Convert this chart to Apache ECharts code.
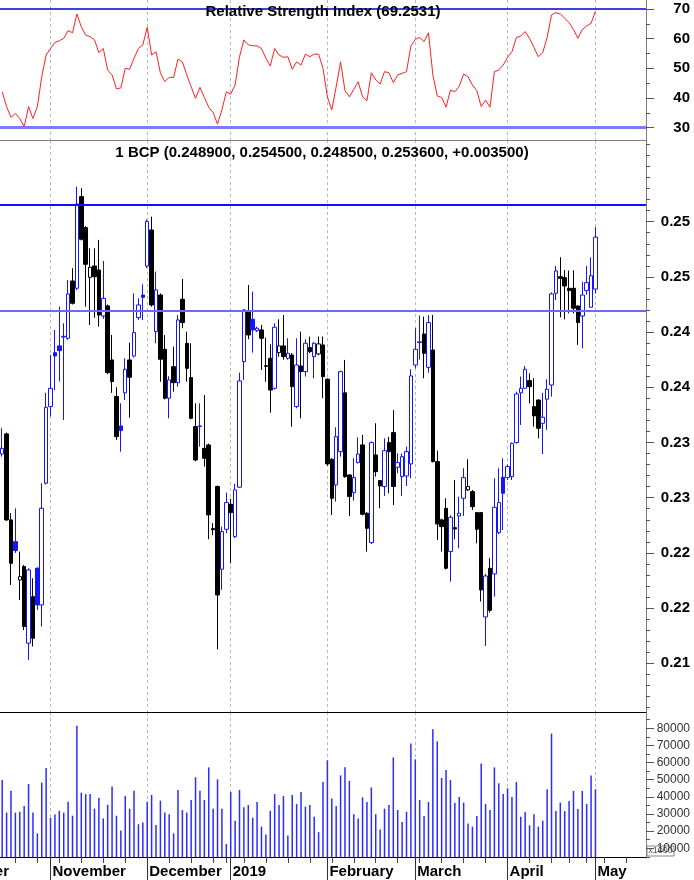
<!DOCTYPE html>
<html>
<head>
<meta charset="utf-8">
<script src="https://cdn.jsdelivr.net/npm/echarts@6/dist/echarts.min.js"></script>
<style>html,body{margin:0;padding:0;background:#fff}#chart{width:694px;height:880px}</style>
</head>
<body>
<div id="chart"></div>
<script>
// ---------------- data ----------------
const dates = [
'2018-10-17','2018-10-18','2018-10-19','2018-10-22','2018-10-23','2018-10-24','2018-10-25','2018-10-26','2018-10-29','2018-10-30','2018-10-31',
'2018-11-01','2018-11-02','2018-11-05','2018-11-06','2018-11-07','2018-11-08','2018-11-09','2018-11-12','2018-11-13','2018-11-14','2018-11-15','2018-11-16','2018-11-19','2018-11-20','2018-11-21','2018-11-22','2018-11-23','2018-11-26','2018-11-27','2018-11-28','2018-11-29','2018-11-30',
'2018-12-03','2018-12-04','2018-12-05','2018-12-06','2018-12-07','2018-12-10','2018-12-11','2018-12-12','2018-12-13','2018-12-14','2018-12-17','2018-12-18','2018-12-19','2018-12-20','2018-12-21','2018-12-24','2018-12-27','2018-12-28','2018-12-31',
'2019-01-02','2019-01-03','2019-01-04','2019-01-07','2019-01-08','2019-01-09','2019-01-10','2019-01-11','2019-01-14','2019-01-15','2019-01-16','2019-01-17','2019-01-18','2019-01-21','2019-01-22','2019-01-23','2019-01-24','2019-01-25','2019-01-28','2019-01-29','2019-01-30','2019-01-31',
'2019-02-01','2019-02-04','2019-02-05','2019-02-06','2019-02-07','2019-02-08','2019-02-11','2019-02-12','2019-02-13','2019-02-14','2019-02-15','2019-02-18','2019-02-19','2019-02-20','2019-02-21','2019-02-22','2019-02-25','2019-02-26','2019-02-27','2019-02-28',
'2019-03-01','2019-03-04','2019-03-05','2019-03-06','2019-03-07','2019-03-08','2019-03-11','2019-03-12','2019-03-13','2019-03-14','2019-03-15','2019-03-18','2019-03-19','2019-03-20','2019-03-21','2019-03-22','2019-03-25','2019-03-26','2019-03-27','2019-03-28','2019-03-29',
'2019-04-01','2019-04-02','2019-04-03','2019-04-04','2019-04-05','2019-04-08','2019-04-09','2019-04-10','2019-04-11','2019-04-12','2019-04-15','2019-04-16','2019-04-17','2019-04-18','2019-04-23','2019-04-24','2019-04-25','2019-04-26','2019-04-29','2019-04-30',
'2019-05-02'
];
const futureDates = ['2019-05-03','2019-05-06','2019-05-07','2019-05-08','2019-05-09','2019-05-10','2019-05-13','2019-05-14','2019-05-15','2019-05-16','2019-05-17'];

const openP = [
0.23396,0.23578,0.22799,0.22602,0.22255,0.22376,0.21682,0.22104,0.22361,0.22029,0.23131,
0.23825,0.24314,0.24375,0.24455,0.24444,0.24963,0.24897,0.25727,0.25446,0.24996,0.25099,0.25063,0.24646,0.24737,0.24248,0.23916,0.2365,0.2395,0.24248,0.24284,0.24631,0.24836,
0.25099,0.25425,0.24504,0.24836,0.24344,0.23901,0.24187,0.24042,0.24797,0.24399,0.24088,0.23644,0.23645,0.23447,0.23478,0.2272,0.23101,0.22352,0.22714,
0.2294,0.22648,0.23095,0.24233,0.24692,0.24616,0.24513,0.2452,0.24196,0.24263,0.23991,0.24314,0.24375,0.24263,0.24293,0.23825,0.24193,0.24142,0.2436,0.24278,0.24302,0.24384,
0.24073,0.23348,0.23116,0.23417,0.2395,0.23206,0.23046,0.23318,0.23478,0.22859,0.22593,0.23387,0.23155,0.23101,0.23499,0.2359,0.23276,0.23191,0.23197,0.23306,
0.24202,0.24405,0.24483,0.24181,0.24338,0.23327,0.22799,0.22904,0.22512,0.22729,0.22835,0.22995,0.23071,0.23055,0.22865,0.22865,0.2192,0.22361,0.2231,0.22684,0.23185,
0.23182,0.23191,0.23499,0.2395,0.23991,0.24061,0.23825,0.23885,0.23674,0.23892,0.24021,0.24852,0.25002,0.24993,0.24897,0.24897,0.24737,0.24646,0.24876,0.24725,
0.2489
];
const closeP = [
0.23447,0.22799,0.22406,0.22521,0.22285,0.21833,0.22346,0.21727,0.22029,0.22904,0.23819,
0.23991,0.24284,0.24332,0.24462,0.24846,0.24761,0.25661,0.25341,0.25114,0.25087,0.25002,0.24655,0.24806,0.24133,0.24052,0.23553,0.23608,0.24163,0.24091,0.24495,0.24746,0.24815,
0.25501,0.24746,0.24882,0.24254,0.23901,0.24067,0.24042,0.2461,0.24586,0.24172,0.23719,0.23342,0.2365,0.23357,0.22844,0.2271,0.22119,0.22693,0.22956,
0.22865,0.23071,0.24058,0.24701,0.24474,0.2452,0.24535,0.24444,0.2419,0.23976,0.24544,0.24375,0.24278,0.24308,0.24006,0.24202,0.24142,0.24399,0.24323,0.24399,0.24393,0.24097,
0.23306,0.22995,0.23553,0.24142,0.23191,0.2301,0.23182,0.23396,0.2285,0.22723,0.23499,0.23236,0.23106,0.23426,0.23417,0.23101,0.23318,0.23372,0.23417,0.24103,
0.24344,0.24412,0.24308,0.24586,0.23327,0.22762,0.22738,0.22361,0.22823,0.22717,0.22859,0.23182,0.23101,0.22919,0.22714,0.22165,0.22291,0.2198,0.22913,0.22956,0.2304,
0.23282,0.23493,0.2394,0.23991,0.24163,0.24006,0.23741,0.23629,0.23729,0.23982,0.24846,0.25054,0.24987,0.24918,0.24876,0.24716,0.24586,0.24836,0.24948,0.2501,
0.2536
];
const lowP = [
0.23372,0.2279,0.2221,0.2250,0.22074,0.21802,0.21531,0.21652,0.21984,0.21833,0.2312,
0.23735,0.23976,0.24052,0.23704,0.2443,0.2475,0.2488,0.2533,0.24731,0.24565,0.2463,0.2455,0.2462,0.2412,0.2395,0.23523,0.23417,0.23885,0.23725,0.2427,0.2461,0.2461,
0.2508,0.2473,0.24399,0.2405,0.2389,0.23719,0.23961,0.24006,0.24535,0.24052,0.2371,0.2333,0.23463,0.23282,0.22624,0.2266,0.21627,0.22165,0.22678,
0.22406,0.22633,0.2309,0.24067,0.24435,0.24314,0.2450,0.24157,0.2405,0.23771,0.2398,0.24278,0.2425,0.2425,0.23644,0.2381,0.23719,0.24097,0.2431,0.24082,0.2429,0.23901,
0.2329,0.22844,0.22965,0.23372,0.2318,0.22835,0.22974,0.2331,0.2284,0.22512,0.2258,0.23191,0.22904,0.23016,0.2304,0.22934,0.23221,0.23016,0.23106,0.23176,
0.24172,0.2425,0.24082,0.24133,0.2332,0.22617,0.22512,0.2235,0.2224,0.22624,0.22542,0.22835,0.2306,0.22889,0.22587,0.22059,0.21657,0.2196,0.22104,0.2267,0.22708,
0.2316,0.2316,0.2349,0.23659,0.2399,0.23855,0.23644,0.23538,0.23396,0.23614,0.23916,0.24791,0.24634,0.24616,0.2467,0.2467,0.24384,0.24353,0.2484,0.2472,
0.2485
];
const highP = [
0.23629,0.2359,0.2286,0.22904,0.22512,0.2239,0.22361,0.2227,0.2237,0.23131,0.2395,
0.24293,0.24519,0.24731,0.2458,0.24972,0.25078,0.25818,0.25803,0.2546,0.25259,0.2526,0.25335,0.25144,0.2475,0.24474,0.2400,0.23855,0.24263,0.24405,0.24852,0.24806,0.24933,
0.2552,0.25546,0.25048,0.2485,0.24474,0.2410,0.24368,0.24655,0.24981,0.24504,0.24399,0.23855,0.23855,0.2393,0.2349,0.2277,0.2311,0.22738,0.23046,
0.2299,0.23125,0.24133,0.2471,0.24927,0.24867,0.2455,0.24565,0.2445,0.24389,0.2458,0.24616,0.24655,0.24444,0.2431,0.24444,0.24504,0.24435,0.24459,0.2441,0.2446,0.2446,
0.2408,0.2336,0.23638,0.2415,0.24248,0.2321,0.23357,0.23547,0.23569,0.2287,0.2351,0.23674,0.2316,0.23538,0.2355,0.23795,0.23402,0.2340,0.23463,0.24163,
0.24535,0.2465,0.2464,0.24655,0.24655,0.23426,0.2281,0.22995,0.2284,0.23161,0.2301,0.23267,0.23348,0.2307,0.2287,0.2287,0.2231,0.22452,0.23176,0.23267,0.23357,
0.2330,0.2350,0.2396,0.24097,0.24193,0.24127,0.24082,0.2389,0.2395,0.24073,0.2486,0.25099,0.25178,0.25063,0.25057,0.2506,0.2474,0.24957,0.25099,0.25178,
0.2545
];
const volume = [
49800,30800,43600,30800,31300,34700,47500,30800,18700,48300,56800,
27800,29700,31900,30800,37200,29000,81500,42400,41600,41600,33100,39500,27400,35400,46000,29000,20300,40500,33100,43600,24000,25100,
37200,41100,23500,37800,30800,29900,18700,44000,32300,30800,38200,51400,43600,38200,57200,33100,50200,33100,12500,
42800,26100,44000,33900,35200,27800,37000,22600,18100,31900,41600,35200,40500,17500,41100,35800,42800,34300,35200,28400,19400,48700,
61300,39100,34700,52500,57200,49300,29900,27300,39700,37000,45500,29900,21000,33100,35200,63000,32300,25300,31300,71200,
61900,38200,28800,37000,79400,72400,51000,55700,49800,36600,39900,36600,24500,22600,28800,59500,35800,32300,57200,47900,41600,
45000,39900,48700,28400,31100,23400,29900,22600,26100,44400,76900,31700,36600,31700,37600,43400,32900,43400,35800,52500,
44400
];
const rsi = [
42.1,37.1,33.5,34.8,33.1,30.3,37.1,33.1,37.1,47.2,54.5,
56.7,58.7,59.3,60.1,62.7,62.0,68.3,64.0,61.2,60.7,59.6,55.3,56.7,49.4,47.8,43.1,43.4,50.0,49.7,53.4,56.7,57.9,
63.8,54.5,55.6,48.5,45.5,47.0,46.9,53.1,52.2,47.8,43.8,39.9,43.6,40.2,36.9,35.1,31.2,36.0,42.1,
41.3,44.4,53.9,59.6,57.9,57.6,57.6,56.7,53.4,50.8,56.7,54.5,53.7,53.9,49.7,52.2,51.1,54.8,53.9,54.8,54.8,50.0,
40.4,36.0,43.8,52.2,42.5,40.4,42.9,45.5,40.4,39.1,48.5,46.1,44.7,48.9,48.5,45.2,47.8,48.3,48.9,57.5,
59.8,60.4,59.0,62.0,47.8,40.7,40.2,36.9,42.7,42.1,44.0,48.1,47.2,44.4,42.5,37.1,39.3,36.9,48.9,49.4,51.1,
53.7,55.6,60.4,60.9,62.4,60.1,57.1,53.9,55.3,60.4,68.0,68.8,68.3,66.9,65.4,63.1,60.1,63.1,64.3,65.2,
69.2531
];
const priceLevels = [0.25658, 0.24691];
const rsiLevels = [70, 30];
const priceTickValues = [0.215, 0.22, 0.225, 0.23, 0.235, 0.24, 0.245, 0.25, 0.255];
const priceTickLabels = ['0.21', '0.22', '0.22', '0.23', '0.23', '0.24', '0.24', '0.25', '0.25'];
const rsiTickValues = [30, 40, 50, 60, 70];
const volumeTickValues = [10000, 20000, 30000, 40000, 50000, 60000, 70000, 80000];
const monthKeys = ['2018-10', '2018-11', '2018-12', '2019-01', '2019-02', '2019-03', '2019-04', '2019-05'];
const monthLabels = ['October', 'November', 'December', '2019', 'February', 'March', 'April', 'May'];
const octoberLeadDays = 12; // trading days of October before the first bar
const ticker = '1 BCP';

// ---------------- helpers ----------------
const FONT = "'Liberation Sans', Arial, Helvetica, sans-serif";
const categories = dates.concat(futureDates);
const monthOf = d => d.slice(0, 7);
const dow = d => new Date(d + 'T00:00:00Z').getUTCDay();
const isMonthStart = i => i > 0 && monthOf(categories[i]) !== monthOf(categories[i - 1]);
const isWeekStart = i => i > 0 && dow(categories[i]) < dow(categories[i - 1]);

const priceMinor = [];
for (let k = 211; k <= 262; k++) priceMinor.push(k / 1000);
const rsiMinor = [35, 45, 55, 65];
const volMinor = [5000, 15000, 25000, 35000, 45000, 55000, 65000, 75000, 85000];

const BLUE = '#1414ff', BLACK = '#000000';
const candleData = openP.map((o, i) => {
  const c = closeP[i];
  const up = i === 0 ? true : c >= closeP[i - 1];
  const col = up ? BLUE : BLACK;
  const fill = c < o ? col : '#ffffff';
  return { value: [o, c, lowP[i], highP[i]], itemStyle: { color: fill, color0: fill, borderColor: col, borderColor0: col, borderWidth: 1 } };
});

const n = closeP.length;
const fmt6 = v => v.toFixed(6);
const chg = closeP[n - 1] - closeP[n - 2];
const priceTitle = `${ticker} (${fmt6(openP[n - 1])}, ${fmt6(highP[n - 1])}, ${fmt6(lowP[n - 1])}, ${fmt6(closeP[n - 1])}, ${chg >= 0 ? '+' : '-'}${fmt6(Math.abs(chg))})`;
const rsiTitle = `Relative Strength Index (${rsi[n - 1].toFixed(4)})`;

const dashed = { show: true, interval: (i) => isMonthStart(i), alignWithLabel: true, lineStyle: { color: '#b8b8b8', type: [3, 3], width: 1 } };
const axisGrey = '#808080';

function catAxis(gridIndex, lineColor) {
  return {
    type: 'category', gridIndex, data: categories, boundaryGap: true,
    axisLine: { show: true, lineStyle: { color: lineColor, width: 1 } },
    axisTick: { show: false }, axisLabel: { show: false },
    splitLine: dashed
  };
}

const chart = echarts.init(document.getElementById('chart'), null, { renderer: 'canvas' });
const option = {
  animation: false,
  backgroundColor: '#ffffff',
  grid: [
    { left: 0, right: 48, top: 0, height: 140 },
    { left: 0, right: 48, top: 140, height: 572 },
    { left: 0, right: 48, top: 712, height: 145 }
  ],
  xAxis: [
    catAxis(0, axisGrey),
    catAxis(1, '#000000'),
    Object.assign(catAxis(2, '#000000'), {
      axisTick: { show: true, interval: (i) => isWeekStart(i), alignWithLabel: true, length: 6, lineStyle: { color: '#444' } }
    }),
    {
      type: 'category', gridIndex: 2, data: categories, boundaryGap: true, position: 'bottom',
      axisLine: { show: false },
      axisTick: { show: true, interval: (i) => isMonthStart(i), alignWithLabel: true, length: 23, lineStyle: { color: '#333' } },
      axisLabel: {
        show: true, interval: (i) => isMonthStart(i), align: 'left', margin: 7, padding: [0, 0, 0, 2],
        formatter: (v) => monthLabels[monthKeys.indexOf(monthOf(v))],
        fontFamily: FONT, fontWeight: 'bold', fontSize: 15, color: '#000'
      },
      splitLine: { show: false }
    }
  ],
  yAxis: [
    {
      type: 'value', gridIndex: 0, position: 'right', min: 25.86, max: 73.03,
      axisLine: { show: true, lineStyle: { color: axisGrey } },
      axisTick: { show: true, inside: false, length: 8, customValues: rsiTickValues, lineStyle: { color: '#555' } },
      axisLabel: { show: true, customValues: rsiTickValues, align: 'right', margin: 44, fontFamily: FONT, fontWeight: 'bold', fontSize: 15, color: '#000', formatter: v => String(v) },
      splitLine: { show: false }
    },
    {
      type: 'value', gridIndex: 0, position: 'right', min: 25.86, max: 73.03,
      axisLine: { show: false },
      axisTick: { show: true, inside: false, length: 4, customValues: rsiMinor, lineStyle: { color: '#555' } },
      axisLabel: { show: false }, splitLine: { show: false }
    },
    {
      type: 'value', gridIndex: 1, position: 'right', min: 0.21059, max: 0.26240,
      axisLine: { show: true, lineStyle: { color: axisGrey } },
      axisTick: { show: true, inside: false, length: 8, customValues: priceTickValues, lineStyle: { color: '#555' } },
      axisLabel: {
        show: true, customValues: priceTickValues, align: 'right', margin: 44, fontFamily: FONT, fontWeight: 'bold', fontSize: 15, color: '#000',
        formatter: v => {
          let best = 0;
          priceTickValues.forEach((t, k) => { if (Math.abs(t - v) < Math.abs(priceTickValues[best] - v)) best = k; });
          return priceTickLabels[best];
        }
      },
      splitLine: { show: false }
    },
    {
      type: 'value', gridIndex: 1, position: 'right', min: 0.21059, max: 0.26240,
      axisLine: { show: false },
      axisTick: { show: true, inside: false, length: 4, customValues: priceMinor, lineStyle: { color: '#555' } },
      axisLabel: { show: false }, splitLine: { show: false }
    },
    {
      type: 'value', gridIndex: 2, position: 'right', min: 4900, max: 89510,
      axisLine: { show: true, lineStyle: { color: axisGrey } },
      axisTick: { show: true, inside: false, length: 8, customValues: volumeTickValues, lineStyle: { color: '#555' } },
      axisLabel: { show: true, customValues: volumeTickValues, align: 'right', margin: 44, fontFamily: FONT, fontSize: 12, color: '#333', formatter: v => String(v) },
      splitLine: { show: false }
    },
    {
      type: 'value', gridIndex: 2, position: 'right', min: 4900, max: 89510,
      axisLine: { show: false },
      axisTick: { show: true, inside: false, length: 4, customValues: volMinor, lineStyle: { color: '#555' } },
      axisLabel: { show: false }, splitLine: { show: false }
    }
  ],
  series: [
    {
      name: 'RSI', type: 'line', xAxisIndex: 0, yAxisIndex: 0, data: rsi,
      symbol: 'none', lineStyle: { color: '#ff2020', width: 1 }, itemStyle: { color: '#ff2020' },
      markLine: {
        silent: true, symbol: 'none', label: { show: false }, precision: 4,
        data: [
          { yAxis: rsiLevels[0], lineStyle: { color: '#0000d8', width: 1.5, type: 'solid' } },
          { yAxis: rsiLevels[1], lineStyle: { color: '#7c7cff', width: 3, type: 'solid' } }
        ]
      }
    },
    {
      name: 'BCP', type: 'candlestick', xAxisIndex: 1, yAxisIndex: 2, data: candleData, barWidth: 4
    },
    {
      name: 'Levels', type: 'line', xAxisIndex: 1, yAxisIndex: 2, data: [], symbol: 'none',
      markLine: {
        silent: true, symbol: 'none', label: { show: false }, precision: 8,
        data: [
          { yAxis: priceLevels[0], lineStyle: { color: '#1010ff', width: 2, type: 'solid' } },
          { yAxis: priceLevels[1], lineStyle: { color: '#6a6aff', width: 2, type: 'solid' } }
        ]
      }
    },
    {
      name: 'Volume', type: 'bar', xAxisIndex: 2, yAxisIndex: 4, data: volume, barWidth: 1.5,
      itemStyle: { color: '#2c2cff' }
    }
  ],
  graphic: [
    { id: 'rsiTitle', type: 'text', x: 323, y: 12, z: 100,
      style: { text: rsiTitle, font: 'bold 15px ' + FONT, fill: '#000', align: 'center', verticalAlign: 'middle', textAlign: 'center', textVerticalAlign: 'middle' } },
    { id: 'priceTitle', type: 'text', x: 322, y: 152.5, z: 100,
      style: { text: priceTitle, font: 'bold 15px ' + FONT, fill: '#000', align: 'center', verticalAlign: 'middle', textAlign: 'center', textVerticalAlign: 'middle' } },
    { id: 'unitBox', type: 'group', x: 647, y: 846, z: 100, children: [
      { type: 'rect', shape: { x: 0, y: 0, width: 27, height: 10 }, style: { fill: '#ffffff', stroke: '#888888', lineWidth: 1 } },
      { type: 'text', x: 13.5, y: 5, style: { text: 'x1000', font: '9px ' + FONT, fill: '#555', align: 'center', verticalAlign: 'middle', textAlign: 'center', textVerticalAlign: 'middle' } }
    ] }
  ]
};
chart.setOption(option);

// leading partial month label, positioned through the axis scale
const px0 = chart.convertToPixel({ xAxisIndex: 3 }, categories[0]);
const px1 = chart.convertToPixel({ xAxisIndex: 3 }, categories[1]);
const octX = px0 - octoberLeadDays * (px1 - px0) + 2;
chart.setOption({
  graphic: [
    { id: 'octLabel', type: 'text', x: octX, y: 857 + 7, z: 100,
      style: { text: monthLabels[0], font: 'bold 15px ' + FONT, fill: '#000', align: 'left', verticalAlign: 'top', textAlign: 'left', textVerticalAlign: 'top' } }
  ]
});
</script>
</body>
</html>
